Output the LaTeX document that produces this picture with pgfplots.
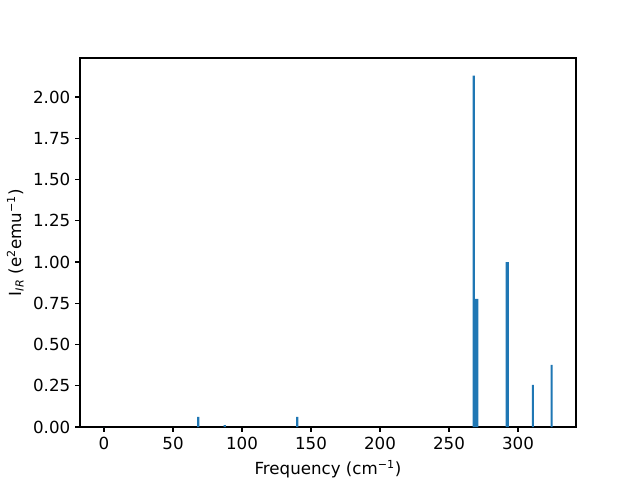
\documentclass[border=0pt]{standalone}
\usepackage{fontspec}
\setmainfont{DejaVu Sans}
\usepackage{pgfplots}
\pgfplotsset{compat=1.18}
\definecolor{mplblue}{RGB}{31,119,180}
\begin{document}
\begin{tikzpicture}
\useasboundingbox (-57.6pt,-38.16pt) rectangle (403.2pt,307.44pt);
\begin{axis}[
  at={(0,0)}, anchor=south west,
  scale only axis,
  width=357.12pt, height=265.68pt,
  xmin=-17.4, xmax=342, ymin=0, ymax=2.2365,
  xtick={0,50,100,150,200,250,300},
  ytick={0,0.25,0.5,0.75,1,1.25,1.5,1.75,2},
  yticklabel style={/pgf/number format/.cd,fixed,fixed zerofill,precision=2},
  xticklabel style={/pgf/number format/.cd,fixed},
  /pgf/number format/assume math mode=true,
  tick align=outside,
  xtick pos=bottom, ytick pos=left,
  major tick length=3.5pt,
  every tick/.style={black, line width=0.8pt},
  axis line style={line width=0.8pt},
  tick label style={font=\fontsize{12}{14}\selectfont},
  label style={font=\fontsize{12}{14}\selectfont},
  xlabel={Frequency (cm\textsuperscript{−1})},
  ylabel={I\textsubscript{\textit{IR}} (e\textsuperscript{2}emu\textsuperscript{−1})},
  xlabel style={yshift=-1pt},
  ylabel style={yshift=0pt},
]
\addplot[ybar, bar width=1.5, fill=mplblue, draw=none] coordinates {
 (0,0)
 (68.3,0.062)
 (87.5,0.012)
 (140.0,0.062)
 (267.9,2.13)
 (269.4,0.776)
 (270.6,0.776)
 (291.7,1.0)
 (292.7,1.0)
 (310.7,0.255)
 (324.4,0.376)
};
\end{axis}
\end{tikzpicture}
\end{document}
